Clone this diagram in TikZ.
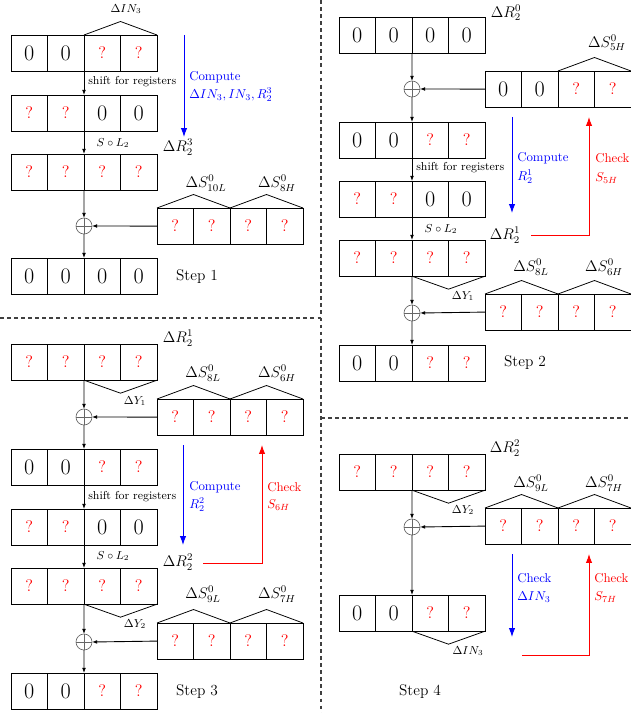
\documentclass[tikz,border=0pt]{standalone}
\usetikzlibrary{arrows.meta,calc}
\newcommand\Zc{{\LARGE 0}}
\newcommand\Qc{\textcolor{red}{\fontsize{13}{15}\selectfont ?}}
\newcommand\regrow[7]{%
  \node[cell,anchor=north west] (#1-1) at (#2,#3) {#4};
  \node[cell,anchor=west] (#1-2) at (#1-1.east) {#5};
  \node[cell,anchor=west] (#1-3) at (#1-2.east) {#6};
  \node[cell,anchor=west] (#1-4) at (#1-3.east) {#7};
}
\newcommand\hatup[2]{\draw[hatline] (#1.north west) -- ($(#1.north west)!.5!(#2.north east)+(0,-13.5)$) -- (#2.north east);}
\newcommand\hatdown[2]{\draw[hatline] (#1.south west) -- ($(#1.south west)!.5!(#2.south east)+(0,13)$) -- (#2.south east);}
\newcommand\oplusnode[2]{\node[oplusc] (#1) at #2 {};
  \draw[black!60,line width=0.5pt] (#1.north) -- (#1.south) (#1.west) -- (#1.east);}
\begin{document}
\begin{tikzpicture}[x=0.7795pt,y=-0.7795pt,
  cell/.style={draw,line width=0.6pt,minimum width=28.45pt,minimum height=28.2pt,inner sep=0pt,outer sep=0pt},
  hatline/.style={line width=0.6pt},
  arr/.style={line width=0.7pt,black,-{Latex[length=4pt,width=3pt]}},
  oplusc/.style={circle,draw=black!60,line width=0.5pt,minimum size=12.5pt,inner sep=0pt,outer sep=0pt},
  bluearr/.style={blue,line width=0.7pt,-{Latex[length=7pt,width=5pt]}},
  redarr/.style={red,line width=0.7pt,-{Latex[length=7pt,width=5pt]}},
  sm/.style={font=\small,inner sep=0pt},
  lg/.style={font=\large,inner sep=0pt},
  bt/.style={blue,anchor=west,inner sep=0pt},
  rt/.style={red,anchor=west,inner sep=0pt},
  sep/.style={black!75,line width=0.8pt,dash pattern=on 3pt off 2.5pt}]
\useasboundingbox (0,0) rectangle (630,713);
% separators
\draw[sep] (321,0) -- (321,713);
\draw[sep] (0,318) -- (321,318);
\draw[sep] (321,418) -- (630,418);

% ---------------- Step 1 ----------------
\regrow{a1}{11}{35}{\Zc}{\Zc}{\Qc}{\Qc}
\regrow{a2}{11}{95}{\Qc}{\Qc}{\Zc}{\Zc}
\regrow{a3}{11}{154}{\Qc}{\Qc}{\Qc}{\Qc}
\regrow{sa}{157}{208}{\Qc}{\Qc}{\Qc}{\Qc}
\regrow{a4}{11}{258}{\Zc}{\Zc}{\Zc}{\Zc}
\oplusnode{pa}{(84,226)}
\hatup{a1-3}{a1-4}
\hatup{sa-1}{sa-2}
\hatup{sa-3}{sa-4}
\draw[arr] (a1-2.south east) -- (a2-2.north east);
\draw[arr] (a2-2.south east) -- (a3-2.north east);
\draw[arr] (a3-2.south east) -- (pa.north);
\draw[arr] (sa-1.west) -- (pa.east);
\draw[arr] (pa.south) -- (a4-2.north east);
\node[sm] (la1) at (126,9) {$\Delta IN_3$};
\node[sm,anchor=west] (sha) at (88,82) {shift for registers};
\node[sm] (sla) at (113,143) {$S\circ L_2$};
\node[lg] (ra3) at (178,147) {$\Delta R_2^3$};
\node[bt] (ca1) at (189,77) {Compute};
\node[bt] (ca2) at (189,95) {$\Delta IN_3, IN_3, R_2^3$};
\coordinate (ba1) at (184,35); \coordinate (ba2) at (184,137);
\draw[bluearr] (ba1) -- (ba2);
\node[lg] (sla1) at (206,183) {$\Delta S^0_{10L}$};
\node[lg] (sla2) at (277,183) {$\Delta S^0_{8H}$};
\node[lg] (st1) at (197,277) {Step 1};

% ---------------- Step 2 ----------------
\regrow{b1}{339}{17}{\Zc}{\Zc}{\Zc}{\Zc}
\regrow{sb1}{485}{71}{\Zc}{\Zc}{\Qc}{\Qc}
\regrow{b2}{339}{122}{\Zc}{\Zc}{\Qc}{\Qc}
\regrow{b3}{339}{181}{\Qc}{\Qc}{\Zc}{\Zc}
\regrow{b4}{339}{240}{\Qc}{\Qc}{\Qc}{\Qc}
\regrow{sb2}{485}{294}{\Qc}{\Qc}{\Qc}{\Qc}
\regrow{b5}{339}{345}{\Zc}{\Zc}{\Qc}{\Qc}
\oplusnode{pb1}{(412,89)}
\oplusnode{pb2}{(412,313)}
\hatup{sb1-3}{sb1-4}
\hatdown{b4-3}{b4-4}
\hatup{sb2-1}{sb2-2}
\hatup{sb2-3}{sb2-4}
\draw[arr] (b1-2.south east) -- (pb1.north);
\draw[arr] (sb1-1.west) -- (pb1.east);
\draw[arr] (pb1.south) -- (b2-2.north east);
\draw[arr] (b2-2.south east) -- (b3-2.north east);
\draw[arr] (b3-2.south east) -- (b4-2.north east);
\draw[arr] (b4-2.south east) -- (pb2.north);
\draw[arr] (sb2-1.west) -- (pb2.east);
\draw[arr] (pb2.south) -- (b5-2.north east);
\node[lg] (rb0) at (506,13) {$\Delta R_2^0$};
\node[lg] (slb0) at (607,43) {$\Delta S^0_{5H}$};
\coordinate (bb1) at (512,117); \coordinate (bb2) at (512,213);
\draw[bluearr] (bb1) -- (bb2);
\node[bt] (cb1) at (517,158) {Compute};
\node[bt] (cb2) at (517,177) {$R_2^1$};
\coordinate (rb1) at (531,235); \coordinate (rb2) at (589,117);
\draw[redarr] (rb1) -| (rb2);
\node[rt] (kb1) at (595,158) {Check};
\node[rt] (kb2) at (595,178) {$S_{5H}$};
\node[sm,anchor=west] (shb) at (416,168) {shift for registers};
\node[sm] (slb) at (441,229) {$S\circ L_2$};
\node[lg] (rb1l) at (505,235) {$\Delta R_2^1$};
\node[sm] (yb1) at (463,296) {$\Delta Y_1$};
\node[lg] (slb1) at (531,267) {$\Delta S^0_{8L}$};
\node[lg] (slb2) at (604,267) {$\Delta S^0_{6H}$};
\node[lg] (st2) at (525,363) {Step 2};

% ---------------- Step 3 ----------------
\regrow{c1}{11}{344}{\Qc}{\Qc}{\Qc}{\Qc}
\regrow{sc1}{157}{399}{\Qc}{\Qc}{\Qc}{\Qc}
\regrow{c2}{11}{449}{\Zc}{\Zc}{\Qc}{\Qc}
\regrow{c3}{11}{509}{\Qc}{\Qc}{\Zc}{\Zc}
\regrow{c4}{11}{568}{\Qc}{\Qc}{\Qc}{\Qc}
\regrow{sc2}{157}{623}{\Qc}{\Qc}{\Qc}{\Qc}
\regrow{c5}{11}{673}{\Zc}{\Zc}{\Qc}{\Qc}
\oplusnode{pc1}{(84,417)}
\oplusnode{pc2}{(84,642)}
\hatdown{c1-3}{c1-4}
\hatup{sc1-1}{sc1-2}
\hatup{sc1-3}{sc1-4}
\hatdown{c4-3}{c4-4}
\hatup{sc2-1}{sc2-2}
\hatup{sc2-3}{sc2-4}
\draw[arr] (c1-2.south east) -- (pc1.north);
\draw[arr] (sc1-1.west) -- (pc1.east);
\draw[arr] (pc1.south) -- (c2-2.north east);
\draw[arr] (c2-2.south east) -- (c3-2.north east);
\draw[arr] (c3-2.south east) -- (c4-2.north east);
\draw[arr] (c4-2.south east) -- (pc2.north);
\draw[arr] (sc2-1.west) -- (pc2.east);
\draw[arr] (pc2.south) -- (c5-2.north east);
\node[lg] (rc1) at (178,338) {$\Delta R_2^1$};
\node[sm] (yc1) at (135,401) {$\Delta Y_1$};
\node[lg] (slc1) at (203,373) {$\Delta S^0_{8L}$};
\node[lg] (slc2) at (277,373) {$\Delta S^0_{6H}$};
\coordinate (bc1) at (183,445); \coordinate (bc2) at (183,545);
\draw[bluearr] (bc1) -- (bc2);
\node[bt] (cc1) at (189,487) {Compute};
\node[bt] (cc2) at (189,505) {$R_2^2$};
\coordinate (rc1) at (203,563); \coordinate (rc2) at (262,445);
\draw[redarr] (rc1) -| (rc2);
\node[rt] (kc1) at (267,487) {Check};
\node[rt] (kc2) at (267,505) {$S_{6H}$};
\node[sm,anchor=west] (shc) at (88,497) {shift for registers};
\node[sm] (slc) at (113,556) {$S\circ L_2$};
\node[lg] (rc2l) at (178,562) {$\Delta R_2^2$};
\node[sm] (yc2) at (135,624) {$\Delta Y_2$};
\node[lg] (slc3) at (203,594) {$\Delta S^0_{9L}$};
\node[lg] (slc4) at (277,594) {$\Delta S^0_{7H}$};
\node[lg] (st3) at (197,692) {Step 3};

% ---------------- Step 4 ----------------
\regrow{d1}{339}{454}{\Qc}{\Qc}{\Qc}{\Qc}
\regrow{sd}{485}{508}{\Qc}{\Qc}{\Qc}{\Qc}
\regrow{d2}{339}{595}{\Zc}{\Zc}{\Qc}{\Qc}
\oplusnode{pd}{(412,527)}
\hatdown{d1-3}{d1-4}
\hatup{sd-1}{sd-2}
\hatup{sd-3}{sd-4}
\hatdown{d2-3}{d2-4}
\draw[arr] (d1-2.south east) -- (pd.north);
\draw[arr] (sd-1.west) -- (pd.east);
\draw[arr] (pd.south) -- (d2-2.north east);
\node[lg] (rd2) at (505,448) {$\Delta R_2^2$};
\node[sm] (yd2) at (463,510) {$\Delta Y_2$};
\node[lg] (sld1) at (531,483) {$\Delta S^0_{9L}$};
\node[lg] (sld2) at (604,483) {$\Delta S^0_{7H}$};
\coordinate (bd1) at (512,554); \coordinate (bd2) at (512,637);
\draw[bluearr] (bd1) -- (bd2);
\node[bt] (cd1) at (517,578) {Check};
\node[bt] (cd2) at (517,597) {$\Delta IN_3$};
\coordinate (rd1) at (522,655); \coordinate (rd2) at (589,554);
\draw[redarr] (rd1) -| (rd2);
\node[rt] (kd1) at (594,578) {Check};
\node[rt] (kd2) at (594,597) {$S_{7H}$};
\node[sm] (id) at (468,651) {$\Delta IN_3$};
\node[lg] (st4) at (420,692) {Step 4};
\end{tikzpicture}
\end{document}
